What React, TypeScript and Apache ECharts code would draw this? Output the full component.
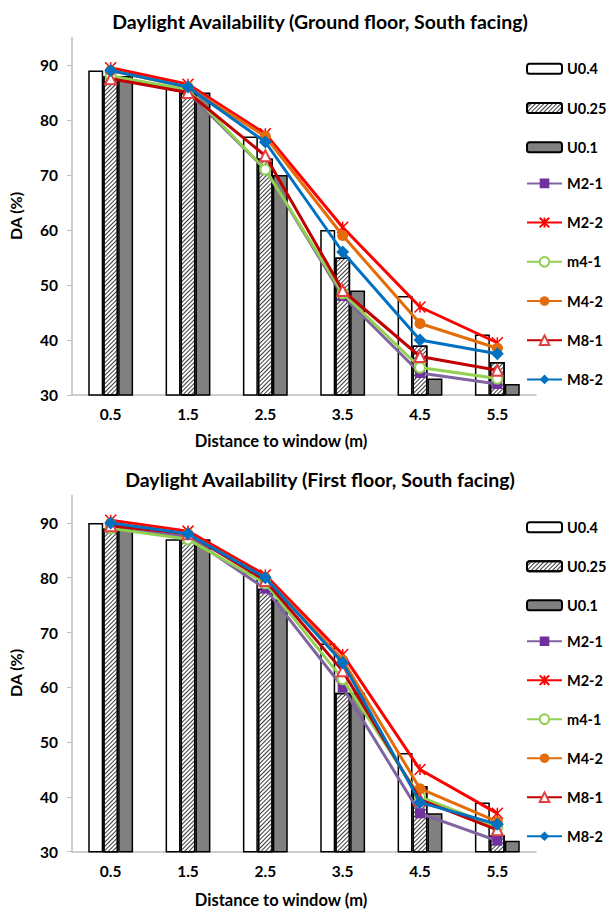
import React, { useEffect, useRef } from 'react';
import * as echarts from 'echarts';

const categories = ['0.5', '1.5', '2.5', '3.5', '4.5', '5.5'];
const yTicks = [30, 40, 50, 60, 70, 80, 90];
const barNames = ['U0.4', 'U0.25', 'U0.1'];
const lineNames = ['M2-1', 'M2-2', 'm4-1', 'M4-2', 'M8-1', 'M8-2'];

// Ground floor, South facing
const groundU04 = [89, 86, 77, 60, 48, 41];
const groundU025 = [88, 85, 73, 55, 39, 36];
const groundU01 = [88, 85, 70, 49, 33, 32];
const groundM21 = [88, 85, 71, 48, 34, 32];
const groundM22 = [89.5, 86.5, 77.5, 60.5, 46, 39.5];
const groundm41 = [88, 85.5, 71, 48.5, 35, 33];
const groundM42 = [89, 86, 77, 59, 43, 38.5];
const groundM81 = [87.5, 85, 73.5, 49, 37, 34.5];
const groundM82 = [89, 86, 76, 56, 40, 37.5];

// First floor, South facing
const firstU04 = [90, 87, 81, 68, 48, 39];
const firstU025 = [89, 87, 78, 59, 42, 33];
const firstU01 = [89, 87, 76, 59, 37, 32];
const firstM21 = [89, 87.5, 78, 60, 37, 32];
const firstM22 = [90.5, 88.5, 80.5, 66, 45, 37];
const firstm41 = [89, 87, 79, 61.5, 40, 34.5];
const firstM42 = [90, 88, 80, 65, 41.5, 35.5];
const firstM81 = [89.5, 88, 79.5, 63, 39.5, 34];
const firstM82 = [90, 88, 80, 64.5, 39, 35];

const FONT = 'Lato, "Open Sans", sans-serif';

const barStyles = [
  { color: '#ffffff' },
  {
    color: '#ffffff',
    decal: {
      symbol: 'rect',
      symbolSize: 1,
      color: '#3a3a3a',
      backgroundColor: '#ffffff',
      dashArrayX: [1, 0],
      dashArrayY: [1, 2],
      rotation: -Math.PI / 4,
    },
  },
  { color: '#808080' },
];

const lineStyles = [
  { line: '#8064A2', symbol: 'rect', size: 10, item: { color: '#7030A0' } },
  {
    line: '#FF0000',
    symbol: 'path://M0 0L10 10M10 0L0 10M5 0L5 10',
    size: 11,
    item: { color: 'rgba(0,0,0,0)', borderColor: '#FF0000', borderWidth: 1.5 },
  },
  { line: '#92D050', symbol: 'emptyCircle', size: 10, item: { color: '#92D050', borderWidth: 1.5 } },
  { line: '#E46C0A', symbol: 'circle', size: 11, item: { color: '#E46C0A' } },
  { line: '#C00000', symbol: 'emptyTriangle', size: 11, item: { color: '#E04040', borderWidth: 1.5 } },
  { line: '#0070C0', symbol: 'diamond', size: 13, item: { color: '#0070C0' } },
];

function buildSeries(grid: number, bars: number[][], lines: number[][]) {
  const out: any[] = [];
  bars.forEach((d, i) => {
    out.push({
      type: 'bar',
      name: barNames[i],
      xAxisIndex: grid,
      yAxisIndex: grid,
      data: d,
      barGap: '0%',
      barCategoryGap: '42%',
      itemStyle: { ...barStyles[i], borderColor: '#000000', borderWidth: 1.5 },
      z: 2,
    });
  });
  lines.forEach((d, i) => {
    const s = lineStyles[i];
    out.push({
      type: 'line',
      name: lineNames[i],
      xAxisIndex: grid,
      yAxisIndex: grid,
      data: d,
      symbol: s.symbol,
      symbolSize: s.size,
      showAllSymbol: true,
      lineStyle: { color: s.line, width: 3 },
      itemStyle: s.item,
      z: 3 + i,
    });
  });
  return out;
}

const axisGray = '#BFBFBF';

function xAxisFor(grid: number) {
  return {
    gridIndex: grid,
    type: 'category',
    data: categories,
    axisLine: { show: true, lineStyle: { color: axisGray, width: 1.5 } },
    axisTick: { show: false },
    axisLabel: { color: '#000', fontFamily: FONT, fontWeight: 'bold', fontSize: 15.5, margin: 11 },
    splitLine: { show: false },
  };
}

function yAxisFor(grid: number) {
  return {
    gridIndex: grid,
    type: 'value',
    min: 30,
    max: 95,
    interval: 10,
    axisLine: { show: true, lineStyle: { color: axisGray, width: 1.5 } },
    axisTick: { show: true, length: 5, customValues: yTicks, lineStyle: { color: axisGray, width: 1 } },
    axisLabel: {
      customValues: yTicks,
      color: '#000',
      fontFamily: FONT,
      fontWeight: 'bold',
      fontSize: 15.5,
      margin: 14,
      formatter: (v: number) => (v > 90 ? '' : String(v)),
    },
    splitLine: { show: false },
  };
}

function legendsFor(firstCenter: number, step: number) {
  const textStyle = { color: '#000', fontFamily: FONT, fontWeight: 'bold', fontSize: 14.5, lineHeight: 14 };
  const common = {
    orient: 'vertical',
    left: 526,
    padding: 0,
    itemWidth: 35,
    itemGap: step - 14,
    selectedMode: false,
    textStyle,
  };
  return [
    { ...common, top: firstCenter - 7, itemHeight: 10, data: barNames },
    { ...common, top: firstCenter + 3 * step - 7, itemHeight: 12, data: lineNames },
  ];
}

function textEl(text: string, x: number, y: number, size: number, rotation = 0) {
  return {
    type: 'text',
    x,
    y,
    rotation,
    style: {
      text,
      fill: '#000',
      font: `bold ${size}px ${FONT}`,
      textAlign: 'center',
      textVerticalAlign: 'middle',
    },
  };
}

export default function App() {
  const ref = useRef<HTMLDivElement>(null);
  useEffect(() => {
    if (!ref.current) return;
    const chart = echarts.init(ref.current, undefined, { renderer: 'svg' });
    const option = {
      animation: false,
      backgroundColor: '#ffffff',
      grid: [
        { left: 72, top: 37.5, width: 464, height: 357.5 },
        { left: 72, top: 495.5, width: 464, height: 356.2 },
      ],
      xAxis: [xAxisFor(0), xAxisFor(1)],
      yAxis: [yAxisFor(0), yAxisFor(1)],
      legend: [...legendsFor(68.3, 38.2), ...legendsFor(526.7, 38.0)],
      graphic: [
        textEl('Daylight Availability (Ground floor, South facing)', 320, 21, 19.5),
        textEl('Distance to window (m)', 281, 441, 16.5),
        textEl('DA (%)', 15, 216, 16, Math.PI / 2),
        textEl('Daylight Availability (First floor, South facing)', 320, 479, 19.5),
        textEl('Distance to window (m)', 281, 900, 16.5),
        textEl('DA (%)', 15, 673, 16, Math.PI / 2),
      ],
      series: [
        ...buildSeries(
          0,
          [groundU04, groundU025, groundU01],
          [groundM21, groundM22, groundm41, groundM42, groundM81, groundM82]
        ),
        ...buildSeries(
          1,
          [firstU04, firstU025, firstU01],
          [firstM21, firstM22, firstm41, firstM42, firstM81, firstM82]
        ),
      ],
    };
    chart.setOption(option as any);
    return () => chart.dispose();
  }, []);
  return (
    <div
      ref={ref}
      style={{ position: 'fixed', left: 0, top: 0, width: 611, height: 913, background: '#fff' }}
    />
  );
}
